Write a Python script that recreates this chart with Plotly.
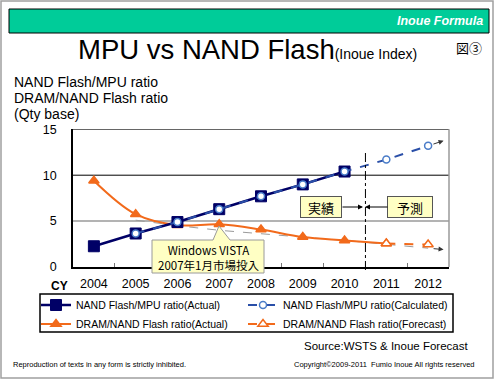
import plotly.graph_objects as go

W, H = 500, 380

years = ["2004", "2005", "2006", "2007", "2008", "2009", "2010", "2011", "2012"]
yticks = [0, 5, 10, 15]

nand_mpu_actual_x = years[:7]
nand_mpu_actual = [2.26, 3.65, 4.9, 6.3, 7.7, 9.0, 10.4]
nand_mpu_calc_x = years[1:]
nand_mpu_calc = [3.65, 4.9, 6.3, 7.7, 9.0, 10.4, 11.7, 13.2]

dram_nand_actual_x = years[:8]
dram_nand_actual = [9.4, 5.75, 4.55, 4.66, 4.08, 3.27, 2.9, 2.55]
dram_nand_fc_x = years[7:]
dram_nand_fc = [2.55, 2.45]

dram_trend_x = years[1:]
dram_trend = [5.1, 4.5, 4.0, 3.6, 3.25, 2.9, 2.45, 2.05]

NAVY = "#000066"
BLUE = "#2A4FA8"
ORANGE = "#F26A1B"
JP = "Noto Sans CJK JP"
SANS = "Liberation Sans, Arial, sans-serif"


def px(x):
    return x / W


def py(y):
    return 1 - y / H


fig = go.Figure()

fig.add_trace(go.Scatter(
    x=dram_trend_x, y=dram_trend, mode="lines",
    line=dict(color="#9A9A9A", width=1, dash="dash"),
    showlegend=False, hoverinfo="skip"))

fig.add_trace(go.Scatter(
    x=dram_nand_actual_x, y=dram_nand_actual, mode="lines+markers",
    name="DRAM/NAND Flash ratio(Actual)",
    line=dict(color=ORANGE, width=2, shape="spline", smoothing=1),
    marker=dict(symbol="triangle-up", size=9,
                color=[ORANGE] * 7 + ["white"],
                line=dict(color=ORANGE, width=1.5)),
    legend="legend", legendrank=2))

fig.add_trace(go.Scatter(
    x=dram_nand_fc_x, y=dram_nand_fc, mode="lines+markers",
    name="DRAM/NAND Flash ratio(Forecast)",
    line=dict(color=ORANGE, width=2, dash="dash"),
    marker=dict(symbol="triangle-up", size=9, color="white",
                line=dict(color=ORANGE, width=1.5)),
    legend="legend2", legendrank=2))

fig.add_trace(go.Scatter(
    x=nand_mpu_actual_x, y=nand_mpu_actual, mode="lines+markers",
    name="NAND Flash/MPU ratio(Actual)",
    line=dict(color=NAVY, width=2.5),
    marker=dict(symbol="square", size=11, color=NAVY,
                line=dict(color=NAVY, width=1)),
    legend="legend", legendrank=1))

fig.add_trace(go.Scatter(
    x=nand_mpu_calc_x, y=nand_mpu_calc, mode="lines+markers",
    name="NAND Flash/MPU ratio(Calculated)",
    line=dict(color=BLUE, width=2, dash="dash"),
    marker=dict(symbol="circle", size=7, color="white",
                line=dict(color="#4A7CC8", width=1.5)),
    legend="legend2", legendrank=1))

shapes = []
# outer frame
shapes.append(dict(type="rect", xref="paper", yref="paper",
                   x0=px(1), x1=px(493), y0=py(378), y1=py(1),
                   line=dict(color="#A0A0A0", width=1.5)))
# header bar
shapes.append(dict(type="rect", xref="paper", yref="paper",
                   x0=px(9), x1=px(489), y0=py(33), y1=py(9),
                   fillcolor="#00CC99", line=dict(color="black", width=1)))
# grid lines
shapes.append(dict(type="line", xref="x domain", yref="y", x0=0, x1=1,
                   y0=yticks[1], y1=yticks[1], layer="below",
                   line=dict(color="#9A9A9A", width=1.5)))
shapes.append(dict(type="line", xref="x domain", yref="y", x0=0, x1=1,
                   y0=yticks[2], y1=yticks[2], layer="below",
                   line=dict(color="black", width=1)))
shapes.append(dict(type="line", xref="x domain", yref="y", x0=0, x1=1,
                   y0=yticks[3], y1=yticks[3],
                   line=dict(color="black", width=1)))
# right border of plot
shapes.append(dict(type="line", xref="x domain", yref="y domain", x0=1, x1=1,
                   y0=0, y1=1, line=dict(color="#9A9A9A", width=1.5)))
# actual / forecast divider
shapes.append(dict(type="line", xref="x", yref="paper", x0=6.5, x1=6.5,
                   y0=py(270), y1=py(152),
                   line=dict(color="black", width=1, dash="dashdot")))
# callout
cx0, cx1, cy0, cy1 = 152, 264, 240, 273
tip = (219, 226)
path = (f"M {px(cx0)},{py(cy0)} L {px(213)},{py(cy0)} L {px(tip[0])},{py(tip[1])} "
        f"L {px(230)},{py(cy0)} L {px(cx1)},{py(cy0)} L {px(cx1)},{py(cy1)} "
        f"L {px(cx0)},{py(cy1)} Z")
shapes.append(dict(type="path", xref="paper", yref="paper", path=path,
                   fillcolor="#FFFFC4", line=dict(color="#9A9A9A", width=1)))
# legend box
shapes.append(dict(type="rect", xref="paper", yref="paper",
                   x0=px(40), x1=px(453), y0=py(332), y1=py(294),
                   line=dict(color="black", width=1.5)))

P = dict(xref="paper", yref="paper", showarrow=False)
ann = []
ann.append(dict(text="<b><i>Inoue Formula</i></b>", x=px(485), y=py(21),
                xanchor="right", yanchor="middle",
                font=dict(family=SANS, size=12.5, color="white"), **P))
ann.append(dict(text="MPU vs NAND Flash<span style='font-size:14px'>(Inoue Index)</span>",
                x=px(76), y=py(67), xanchor="left", yanchor="bottom",
                font=dict(family=SANS, size=27.5, color="black"), **P))
ann.append(dict(text="図③", x=px(469), y=py(48), xanchor="center",
                yanchor="middle",
                font=dict(family=JP, size=13, color="black"), **P))
for i, t in enumerate(["NAND Flash/MPU ratio", "DRAM/NAND Flash ratio", "(Qty base)"]):
    ann.append(dict(text=t, x=px(12), y=py(82 + 16 * i), xanchor="left",
                    yanchor="middle",
                    font=dict(family=SANS, size=14, color="black"), **P))
ann.append(dict(text="<b>CY</b>", x=px(59), y=py(286), xanchor="center",
                yanchor="middle",
                font=dict(family=SANS, size=12, color="black"), **P))
ann.append(dict(text="Windows VISTA<br>2007年1月市場投入",
                x=px(208), y=py(257), xanchor="center", yanchor="middle",
                font=dict(family=JP, size=11.5, color="black"), **P))
for t, cx in [("実績", 321), ("予測", 410)]:
    ann.append(dict(text=t, x=px(cx), y=py(207), xanchor="center",
                    yanchor="middle",
                    width=38 if cx < 400 else 42, height=18,
                    bgcolor="#FFFFC4", bordercolor="#555", borderwidth=1,
                    font=dict(family=JP, size=13, color="black"), **P))
for x0, x1 in [(341, 363), (389, 365)]:
    ann.append(dict(text="", x=px(x1), y=py(207), ax=x0 - x1, ay=0,
                    xref="paper", yref="paper", axref="pixel", ayref="pixel",
                    showarrow=True, arrowhead=2, arrowsize=1, arrowwidth=1,
                    arrowcolor="black", standoff=0))

# arrow heads at ends of extrapolated lines
ext = 0.37
for ys in [nand_mpu_calc, dram_trend]:
    last, prev = ys[-1], ys[-2]
    ann.append(dict(text="", x=len(years) - 1 + ext, y=last + ext * (last - prev),
                    ax=len(years) - 1, ay=last, xref="x", yref="y",
                    axref="x", ayref="y", showarrow=True, arrowhead=2,
                    arrowsize=1, arrowwidth=1, arrowcolor="#333",
                    standoff=0, startstandoff=4))

ann.append(dict(text="Source:WSTS & Inoue Forecast", x=px(302), y=py(346),
                xanchor="left", yanchor="middle",
                font=dict(family=SANS, size=11.5, color="black"), **P))
ann.append(dict(text="Reproduction of texts in any form is strictly inhibited.",
                x=px(11), y=py(364), xanchor="left", yanchor="middle",
                font=dict(family=SANS, size=7.5, color="black"), **P))
ann.append(dict(text="Copyright©2009-2011  Fumio Inoue All rights reserved",
                x=px(292), y=py(364), xanchor="left", yanchor="middle",
                font=dict(family=SANS, size=7.5, color="black"), **P))

legend_common = dict(xanchor="left", yanchor="top", bgcolor="rgba(0,0,0,0)",
                     font=dict(family=SANS, size=10.5, color="black"),
                     tracegroupgap=0, itemwidth=30, orientation="v")

fig.update_layout(
    width=W, height=H, autosize=False,
    margin=dict(l=0, r=0, t=0, b=0, autoexpand=False),
    paper_bgcolor="white", plot_bgcolor="white",
    font=dict(family=SANS, color="black"),
    xaxis=dict(type="category", categoryorder="array", categoryarray=years,
               domain=[px(73), px(449)], range=[-0.5, len(years) - 0.5],
               showgrid=False, zeroline=False, showline=True,
               linecolor="black", linewidth=1.5, automargin=False,
               tickson="boundaries", ticks="inside", ticklen=4,
               tickcolor="#777", tickfont=dict(family=SANS, size=12.5, color="black"),
               ticklabelstandoff=4, fixedrange=True),
    yaxis=dict(range=[0, 15], tickvals=yticks, domain=[py(267), py(129.3)],
               showgrid=False, zeroline=False, showline=True,
               linecolor="black", linewidth=1.5, ticks="", automargin=False,
               tickfont=dict(family=SANS, size=12.5, color="black"),
               ticklabelstandoff=12, fixedrange=True),
    legend=dict(x=px(36), y=py(290.5), **legend_common),
    legend2=dict(x=px(243), y=py(290.5), **legend_common),
    shapes=shapes, annotations=ann,
    showlegend=True,
)

fig.write_html("out.html", config={"displayModeBar": False},
               post_script="document.body.style.margin='0';document.body.style.overflow='hidden';")
